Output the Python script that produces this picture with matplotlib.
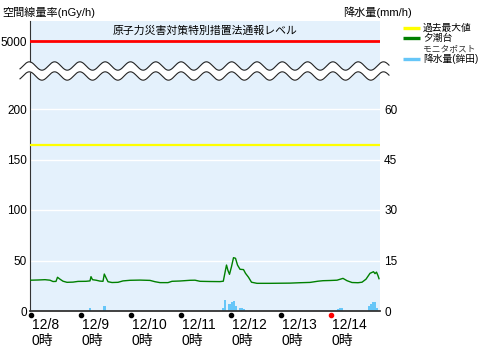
import numpy as np
import matplotlib
matplotlib.use("Agg")
import matplotlib.pyplot as plt
import matplotlib.transforms as mtransforms

plt.rcParams['font.family'] = ['Liberation Sans', 'Noto Sans CJK JP']

# dose rate (nGy/h), time in days from 12/8 0時
dose_t = [0.00, 0.15, 0.29, 0.39, 0.45, 0.51, 0.54, 0.59, 0.65, 0.73, 0.85, 0.95,
          1.11, 1.19, 1.21, 1.24, 1.31, 1.39, 1.45, 1.476, 1.51, 1.55, 1.63, 1.75,
          1.85, 1.99, 2.19, 2.39, 2.49, 2.59, 2.75, 2.83, 2.99, 3.19, 3.29, 3.39,
          3.59, 3.79, 3.856, 3.90, 3.92, 3.95, 3.98, 4.02, 4.06, 4.10, 4.14, 4.19,
          4.26, 4.30, 4.36, 4.42, 4.53, 4.79, 5.19, 5.39, 5.59, 5.75, 5.85, 5.99,
          6.13, 6.25, 6.33, 6.43, 6.55, 6.63, 6.71, 6.79, 6.86, 6.89, 6.92, 6.95, 6.97]
dose_v = [30.5, 30.7, 31.0, 30.5, 29.2, 29.3, 33.4, 31.5, 29.5, 28.4, 28.6, 29.3,
          29.4, 29.8, 34.0, 31.0, 30.5, 29.6, 29.4, 36.6, 33.0, 29.0, 28.2, 28.4,
          29.8, 30.4, 30.6, 30.3, 29.0, 28.1, 28.1, 29.4, 29.7, 30.4, 30.5, 29.4,
          29.2, 29.1, 29.5, 40.6, 45.5, 40.0, 36.3, 43.9, 52.8, 52.2, 45.5, 41.3,
          41.0, 37.3, 33.4, 28.5, 27.4, 27.4, 27.6, 28.0, 28.3, 29.5, 30.0, 30.2,
          30.5, 32.3, 30.0, 28.2, 28.0, 28.5, 31.5, 37.3, 38.9, 37.0, 38.5, 35.0, 32.0]

# hourly rainfall (mm/h), hour index from 12/8 0時
rain_hour = [28, 35, 92, 93, 95, 96, 97, 98, 100, 101, 102,
             147, 148, 149, 162, 163, 164, 165, 166]
rain_mm = [0.9, 1.5, 1.0, 3.3, 2.1, 2.6, 3.0, 1.5, 1.0, 1.0, 0.7,
           0.6, 0.9, 0.9, 1.5, 2.1, 2.7, 2.7, 0.9]

past_max = 164
notify_level = 5000

day_labels = ['12/8', '12/9', '12/10', '12/11', '12/12', '12/13', '12/14']
left_ticks = [0, 50, 100, 150, 200]
right_ticks = [0, 15, 30, 45, 60]

bg = '#e4f1fc'
W, H = 500, 354
fig = plt.figure(figsize=(5, 3.54), dpi=100)

x0, x1 = 29.5, 380
yb, ymid, yt = 311, 71, 21
ax = fig.add_axes([x0 / W, (H - yb) / H, (x1 - x0) / W, (yb - ymid) / H])
axt = fig.add_axes([x0 / W, (H - ymid) / H, (x1 - x0) / W, (ymid - yt) / H])

xlim = (-0.02, 6.99)
ymax = (yb - ymid) / 1.01

# lower panel: rain on the twin axis behind, dose on top
ax2 = ax.twinx()
ax2.set_ylim(0, ymax * 0.3)
ax2.bar(np.array(rain_hour) / 24, rain_mm, width=1 / 24, align='edge',
        color='#66c6f8', zorder=2)
ax2.set_yticks(right_ticks)
ax2.tick_params(axis='y', length=0, pad=3, labelsize=8.5)
for s in ax2.spines.values():
    s.set_visible(False)
ax2.patch.set_visible(True)
ax2.patch.set_facecolor(bg)
ax2.set_zorder(0)
ax.set_zorder(1)
ax.patch.set_visible(False)

ax.set_xlim(*xlim)
ax2.set_xlim(*xlim)
ax.set_ylim(0, ymax)
for v in left_ticks[1:]:
    ax.axhline(v, color='white', lw=1, zorder=1)
ax.axhline(past_max, color='#ffff00', lw=1.6, zorder=3)
ax.plot(dose_t, dose_v, color='#008000', lw=1.0, zorder=4)

ax.set_yticks(left_ticks)
ax.tick_params(axis='y', length=0, pad=2, labelsize=8.5)
ax.set_xticks([])
for k in ['top', 'right']:
    ax.spines[k].set_visible(False)
ax.spines['left'].set_color('#333333')
ax.spines['bottom'].set_color('#333333')
ax.spines['bottom'].set_linewidth(1.3)

# day markers and labels
trans = mtransforms.blended_transform_factory(ax.transData, ax.transAxes)
for i, lab in enumerate(day_labels):
    c = 'red' if i == len(day_labels) - 1 else 'black'
    ax.plot([i], [-4 / 240], 'o', ms=3, color=c, transform=trans, clip_on=False)
    ax.text(i + 0.03, -14 / 240, lab, transform=trans, ha='left', va='center',
            fontsize=10)
    ax.text(i + 0.03, -30.5 / 240, '0時', transform=trans, ha='left', va='center',
            fontsize=10)

# upper panel
axt.set_facecolor(bg)
axt.set_xlim(*xlim)
axt.set_ylim(4400, 5400)
axt.axhline(notify_level, color='#ff0000', lw=2, zorder=3)
axt.set_yticks([notify_level])
axt.tick_params(axis='y', length=0, pad=2, labelsize=8.5)
axt.set_xticks([])
for k in ['top', 'right', 'bottom']:
    axt.spines[k].set_visible(False)
axt.spines['left'].set_color('#333333')
axt.text(0.5, 0.8, '原子力災害対策特別措置法通報レベル', transform=axt.transAxes,
         ha='center', va='center', fontsize=7.8)

# overlay: axis break, titles, legend
ov = fig.add_axes([0, 0, 1, 1], zorder=10)
ov.set_xlim(0, W)
ov.set_ylim(H, 0)
ov.axis('off')
xs = np.linspace(20, 389, 600)
wave = -4.2 * np.cos(2 * np.pi * (xs - 29.3) / 25.3)
ov.fill_between(xs, 66 + wave, 76 + wave, color='white', lw=0)
ov.plot(xs, 66 + wave, color='#222222', lw=0.8)
ov.plot(xs, 76 + wave, color='#222222', lw=0.8)

ov.text(2, 12.5, '空間線量率(nGy/h)', ha='left', va='center', fontsize=8)
ov.text(343, 12.5, '降水量(mm/h)', ha='left', va='center', fontsize=8)

leg = [('#ffff00', 28.3, '過去最大値'), ('#008000', 38.3, '夕潮台'),
       ('#66c6f8', 58.8, '降水量(鉾田)')]
for col, y, lab in leg:
    ov.plot([403, 420], [y, y], color=col, lw=2.4, solid_capstyle='butt')
    ov.text(423, y, lab, ha='left', va='center', fontsize=7)
ov.text(423, 48.3, 'モニタポスト', ha='left', va='center', fontsize=6.3, color='#333333')

fig.savefig('out.png', dpi=100)
